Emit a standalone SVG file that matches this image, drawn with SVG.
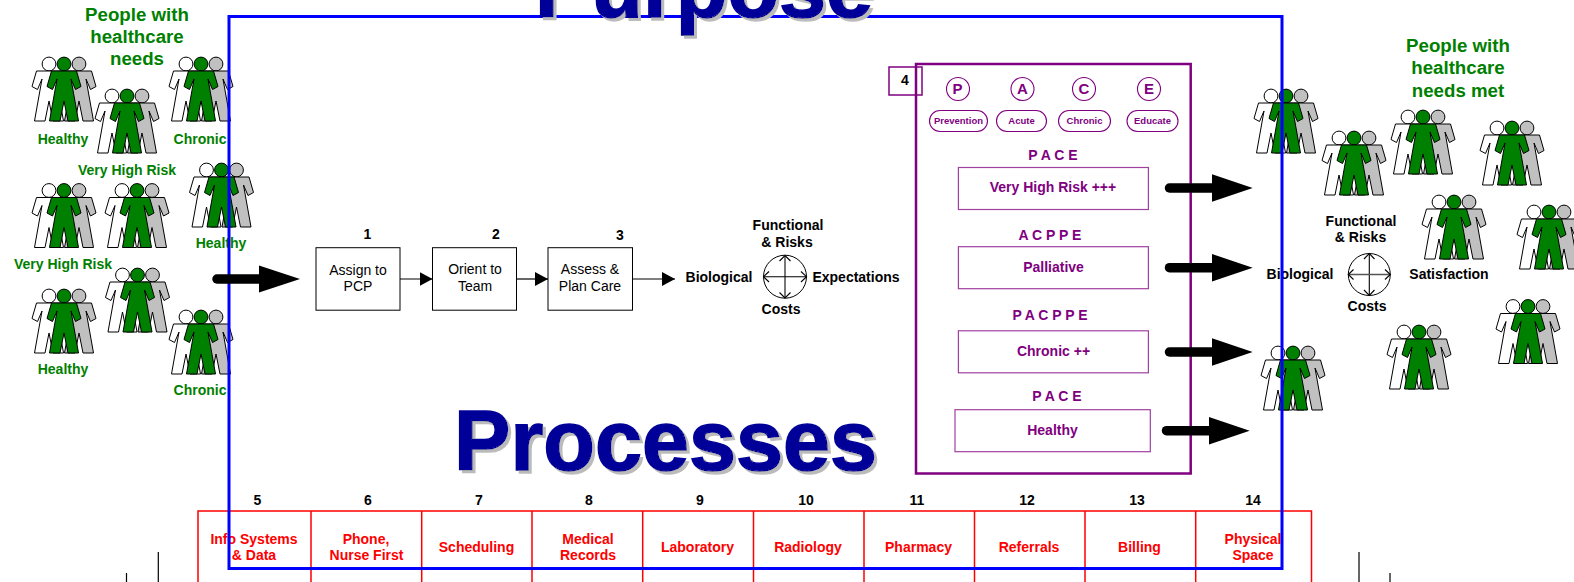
<svg xmlns="http://www.w3.org/2000/svg" xmlns:xlink="http://www.w3.org/1999/xlink" width="1574" height="582" viewBox="0 0 1574 582">
<style>
text{font-family:"Liberation Sans",Arial,sans-serif;text-anchor:middle}
.g{fill:#008000;font-weight:700;font-size:14px}
.gh{fill:#008000;font-weight:700;font-size:18.7px}
.k{fill:#000;font-weight:700;font-size:14px}
.n{fill:#000;font-weight:700;font-size:14px}
.p{fill:#800080;font-weight:700;font-size:14px}
.ps{fill:#800080;font-weight:700;font-size:9.5px}
.pl{fill:#800080;font-weight:700;font-size:14px}
.pc{fill:#800080;font-weight:700;font-size:15px}
.r{fill:#f00;font-weight:700;font-size:14px}
.t{fill:#000;font-size:14px}
.big{fill:#000099;stroke:#000099;stroke-width:1.5px;font-weight:700;font-size:84.5px;filter:url(#sh)}
.box{fill:#fff;stroke:#000;stroke-width:1}
.pb{fill:#fff;stroke:#a040a0;stroke-width:1.2}
.pill{fill:#fff;stroke:#800080;stroke-width:1.1}
.cell{fill:none;stroke:#f00;stroke-width:1.5}
.thin{stroke:#000;stroke-width:1.2;fill:none}
.fat{stroke:#000;stroke-width:9.5;stroke-linecap:round;fill:none}
</style>
<defs>
<filter id="sh" x="-5%" y="-5%" width="110%" height="115%"><feDropShadow dx="3" dy="3" stdDeviation="0" flood-color="#bbbbbb"/></filter>
<marker id="ah" markerUnits="userSpaceOnUse" markerWidth="13" markerHeight="14" refX="13" refY="7" orient="auto"><path d="M0 0L13 7L0 14Z" fill="#000"/></marker>
<g id="pers"><circle cx="0" cy="0" r="6.900"/><path d="M-12.500 7L12.500 7L17 22.500L11.500 25.500L7 15L14.500 57L4 57L0 37L-4 57L-14.500 57L-7 15L-11.500 25.500L-17 22.500Z"/></g>
<g id="grp" stroke="#000" stroke-width="1" stroke-linejoin="round">
<use xlink:href="#pers" href="#pers" x="-15" fill="#fff"/>
<use xlink:href="#pers" href="#pers" x="15" fill="#c0c0c0"/>
<use xlink:href="#pers" href="#pers" fill="#008000"/>
</g>
</defs>
<rect width="1574" height="582" fill="#fff"/>

<g id="people-in">
<use href="#grp" x="64" y="64"/><use href="#grp" x="127" y="96"/><use href="#grp" x="201" y="64"/><use href="#grp" x="221.500" y="170"/>
<use href="#grp" x="64" y="190.500"/><use href="#grp" x="137" y="190.500"/><use href="#grp" x="64" y="296"/><use href="#grp" x="137.500" y="275"/><use href="#grp" x="201" y="317"/>
<text class="gh" x="137" y="21">People with</text><text class="gh" x="137" y="43">healthcare</text><text class="gh" x="137" y="65">needs</text>
<text class="g" x="63" y="144">Healthy</text><text class="g" x="200" y="144">Chronic</text><text class="g" x="127" y="175">Very High Risk</text><text class="g" x="221" y="248">Healthy</text>
<text class="g" x="63" y="269">Very High Risk</text><text class="g" x="63" y="374">Healthy</text><text class="g" x="200" y="395">Chronic</text>
</g>

<g id="people-out">
<use href="#grp" x="1286" y="96"/><use href="#grp" x="1354" y="138"/><use href="#grp" x="1423" y="117"/><use href="#grp" x="1512" y="128"/><use href="#grp" x="1454" y="202"/><use href="#grp" x="1549" y="212"/><use href="#grp" x="1528" y="306.500"/><use href="#grp" x="1419" y="332"/><use href="#grp" x="1293" y="353"/>
<text class="gh" x="1458" y="52">People with</text><text class="gh" x="1458" y="74">healthcare</text><text class="gh" x="1458" y="97">needs met</text>
</g>

<g id="services">
<rect class="cell" x="198" y="511" width="1113.500" height="80"/>
<path class="cell" d="M311 511V590M421.700 511V590M532 511V590M642.700 511V590M753.500 511V590M864 511V590M974.500 511V590M1085 511V590M1195.700 511V590"/>
<text class="n" x="257.500" y="505">5</text><text class="n" x="368" y="505">6</text><text class="n" x="479" y="505">7</text><text class="n" x="589" y="505">8</text><text class="n" x="700" y="505">9</text><text class="n" x="806" y="505">10</text><text class="n" x="917" y="505">11</text><text class="n" x="1027" y="505">12</text><text class="n" x="1137" y="505">13</text><text class="n" x="1253" y="505">14</text>
<text class="r" x="254" y="543.500">Info Systems</text><text class="r" x="254" y="560">&amp; Data</text>
<text class="r" x="366" y="543.500">Phone,</text><text class="r" x="366.500" y="560">Nurse First</text>
<text class="r" x="476.500" y="551.500">Scheduling</text>
<text class="r" x="588" y="543.500">Medical</text><text class="r" x="588" y="560">Records</text>
<text class="r" x="697.500" y="551.500">Laboratory</text><text class="r" x="808" y="551.500">Radiology</text><text class="r" x="918.500" y="551.500">Pharmacy</text><text class="r" x="1029" y="551.500">Referrals</text><text class="r" x="1139.500" y="551.500">Billing</text>
<text class="r" x="1253" y="543.500">Physical</text><text class="r" x="1253" y="560">Space</text>
</g>
<path class="thin" d="M158.300 552V582M126.500 573V582M1359 552V582M1390 573V582"/>

<g id="step-1"><text class="n" x="367.500" y="239">1</text><rect class="box" x="316" y="247.700" width="84" height="62.500"/><text class="t" x="358" y="275">Assign to</text><text class="t" x="358" y="291">PCP</text></g>
<g id="step-2"><text class="n" x="496" y="239">2</text><rect class="box" x="432.500" y="247.700" width="84" height="62.500"/><text class="t" x="475" y="274">Orient to</text><text class="t" x="475" y="291">Team</text></g>
<g id="step-3"><text class="n" x="620" y="240">3</text><rect class="box" x="548" y="247.700" width="84.500" height="62.500"/><text class="t" x="590" y="274">Assess &amp;</text><text class="t" x="590" y="291">Plan Care</text></g>

<g id="compass-1">
<text class="k" x="788" y="230">Functional</text><text class="k" x="787" y="247">&amp; Risks</text><text class="k" x="719" y="282">Biological</text><text class="k" x="856" y="282">Expectations</text><text class="k" x="781" y="314">Costs</text>
<circle cx="785" cy="276.700" r="21.500" fill="none" stroke="#000" stroke-width="1"/>
<path d="M785 255.500V298" stroke="#555" stroke-width="1.600" fill="none"/>
<path d="M763.500 276.700H806.500" stroke="#000" stroke-width="1.100" fill="none"/>
<path d="M769 271.500L763.500 276.700L769 282M801 271.500L806.500 276.700L801 282M779.500 261L785 255.500L790.500 261M779.500 292.500L785 298L790.500 292.500" stroke="#000" stroke-width="1.100" fill="none"/>
</g>
<g id="compass-2">
<text class="k" x="1361" y="225.500">Functional</text><text class="k" x="1360.500" y="241.500">&amp; Risks</text><text class="k" x="1300" y="279">Biological</text><text class="k" x="1449" y="279">Satisfaction</text><text class="k" x="1367" y="310.500">Costs</text>
<circle cx="1369.300" cy="274.500" r="21" fill="none" stroke="#000" stroke-width="1"/>
<path d="M1369.300 253.500V295.500" stroke="#000" stroke-width="1.100" fill="none"/>
<path d="M1348.300 274.500H1390.300" stroke="#555" stroke-width="1.400" fill="none"/>
<path d="M1353.500 269.500L1348.300 274.500L1353.500 279.500M1385 269.500L1390.300 274.500L1385 279.500M1364 259L1369.300 253.500L1374.500 259M1364 290L1369.300 295.500L1374.500 290" stroke="#000" stroke-width="1.100" fill="none"/>
</g>

<g id="pace">
<rect x="916" y="64" width="274.700" height="409.500" fill="none" stroke="#800080" stroke-width="2.500"/>
<rect x="889" y="67" width="33" height="28" fill="none" stroke="#800080" stroke-width="1.500"/>
<text class="k" x="905" y="85">4</text>
<circle class="pill" cx="958" cy="89" r="11.500"/><circle class="pill" cx="1022.500" cy="89" r="11.500"/><circle class="pill" cx="1084" cy="89" r="11.500"/><circle class="pill" cx="1149" cy="89" r="11.500"/>
<text class="pc" x="957.500" y="94">P</text><text class="pc" x="1022.500" y="94">A</text><text class="pc" x="1084" y="94">C</text><text class="pc" x="1149" y="94">E</text>
<rect class="pill" x="929.500" y="110.500" width="58" height="21" rx="10.500"/><rect class="pill" x="996.500" y="110.500" width="50" height="21" rx="10.500"/><rect class="pill" x="1058.500" y="110.500" width="52" height="21" rx="10.500"/><rect class="pill" x="1127" y="110.500" width="51" height="21" rx="10.500"/>
<text class="ps" x="958.500" y="124">Prevention</text><text class="ps" x="1021.500" y="124">Acute</text><text class="ps" x="1084.500" y="124">Chronic</text><text class="ps" x="1152.500" y="124">Educate</text>
<text class="pl" x="1053" y="160">P A C E</text><rect class="pb" x="958.400" y="167.500" width="190" height="42"/><text class="p" x="1053" y="192">Very High Risk +++</text>
<text class="pl" x="1050" y="240">A C P P E</text><rect class="pb" x="958.400" y="246.700" width="190" height="42"/><text class="p" x="1053.500" y="271.500">Palliative</text>
<text class="pl" x="1050" y="320">P A C P P E</text><rect class="pb" x="958.400" y="330.800" width="190" height="42"/><text class="p" x="1053.500" y="355.500">Chronic ++</text>
<text class="pl" x="1057" y="400.500">P A C E</text><rect class="pb" x="955" y="409.700" width="195.300" height="42"/><text class="p" x="1052.500" y="434.500">Healthy</text>
</g>

<rect id="frame" x="229" y="16.500" width="1053" height="552" fill="none" stroke="#0000ff" stroke-width="3"/>

<g id="titles">
<text class="big" x="704" y="16.500">Purpose</text>
<text class="big" x="665.500" y="469.500">Processes</text>
</g>

<g id="connectors">
<path class="thin" d="M400 279H432.500" marker-end="url(#ah)"/>
<path class="thin" d="M516.500 279H548" marker-end="url(#ah)"/>
<path class="thin" d="M632.500 279H675" marker-end="url(#ah)"/>
<path class="fat" d="M217 279H262"/><path d="M259 265.500L300 279L259 292.500Z"/>
<path class="fat" d="M1169.500 188H1214"/><path d="M1212 174.300L1252.700 188L1212 201.700Z"/>
<path class="fat" d="M1169.500 267.700H1214"/><path d="M1212 254L1252.700 267.700L1212 281.400Z"/>
<path class="fat" d="M1169.500 352H1214"/><path d="M1212 338.300L1252.700 352L1212 365.700Z"/>
<path class="fat" d="M1166.500 430.700H1211"/><path d="M1209 417L1249.700 430.700L1209 444.400Z"/>
</g>
</svg>
